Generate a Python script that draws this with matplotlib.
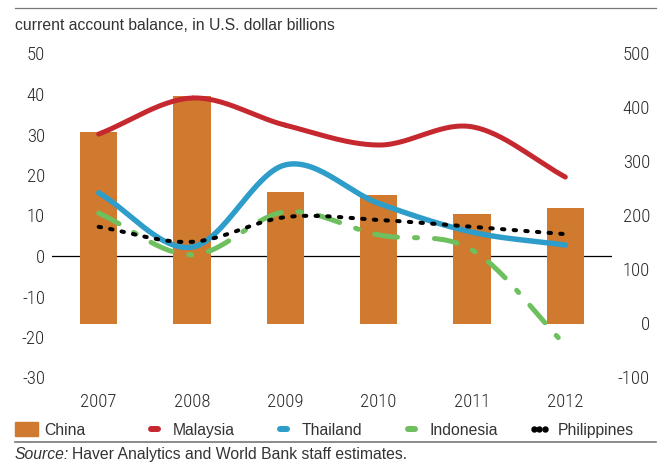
import numpy as np
import matplotlib
matplotlib.use("Agg")
import matplotlib.pyplot as plt
from matplotlib.lines import Line2D
from matplotlib.patches import Patch
from matplotlib.transforms import blended_transform_factory

plt.rcParams['font.family'] = ['Roboto Condensed', 'DejaVu Sans']
plt.rcParams['axes.unicode_minus'] = False

years = ['2007', '2008', '2009', '2010', '2011', '2012']
china = [355, 421, 244, 238, 203, 214]          # right axis
malaysia = [30.1, 39.0, 32.3, 27.4, 31.9, 19.5]
thailand = [15.6, 2.2, 22.5, 13.0, 5.9, 2.7]
indonesia = [10.6, 0.3, 10.9, 5.2, 1.5, -22.0]
philippines = [7.2, 3.5, 9.6, 8.9, 7.2, 5.4]
labels = ['China', 'Malaysia', 'Thailand', 'Indonesia', 'Philippines']


def smooth(y, n=30):
    # catmull-rom curve through the points, for the smoothed line look
    y = np.asarray(y, dtype=float)
    x = np.arange(len(y), dtype=float)
    px = np.concatenate([[2 * x[0] - x[1]], x, [2 * x[-1] - x[-2]]])
    py = np.concatenate([[2 * y[0] - y[1]], y, [2 * y[-1] - y[-2]]])
    xs, ys = [], []
    t = np.linspace(0, 1, n)
    for i in range(1, len(px) - 2):
        for p, out in ((px, xs), (py, ys)):
            p0, p1, p2, p3 = p[i - 1], p[i], p[i + 1], p[i + 2]
            out.append(0.5 * (2 * p1 + (-p0 + p2) * t
                              + (2 * p0 - 5 * p1 + 4 * p2 - p3) * t ** 2
                              + (-p0 + 3 * p1 - 3 * p2 + p3) * t ** 3))
    return np.concatenate(xs), np.concatenate(ys)


W, H = 667, 463
fig = plt.figure(figsize=(W / 100, H / 100), dpi=100)
ax = fig.add_axes([52 / W, 1 - 377.5 / H, 560 / W, 324 / H])
ax2 = ax.twinx()

x = np.arange(len(years))
orange = '#CF7A2E'
red = '#C6282F'
blue = '#2E9DCA'
green = '#6EC05E'
ink = '#2a2a2a'
tfont = dict(family=['Liberation Sans', 'DejaVu Sans'])

ax2.bar(x, china, width=0.4, color=orange, zorder=2)
zt = blended_transform_factory(ax2.transAxes, ax.transData)
ax2.plot([0, 1], [0, 0], color='black', lw=0.9, transform=zt, zorder=1)

sx, sy = smooth(malaysia)
ax.plot(sx, sy, color=red, lw=3.6, solid_capstyle='round')
sx, sy = smooth(thailand)
ax.plot(sx, sy, color=blue, lw=3.9, solid_capstyle='round')
sx, sy = smooth(indonesia)
ax.plot(sx, sy, color=green, lw=3.6, dashes=(4.6, 3.4, 0.6, 3.4), dash_capstyle='round')
sx, sy = smooth(philippines)
ax.plot(sx, sy, color='black', lw=2.9, dashes=(0.6, 2.3), dash_capstyle='round')

ax.set_zorder(ax2.get_zorder() + 1)
ax.patch.set_visible(False)

ax.set_xlim(-0.5, 5.5)
ax.set_ylim(-30, 50)
ax2.set_ylim(-100, 500)
ax.set_yticks(range(-30, 51, 10))
ax2.set_yticks(range(-100, 501, 100))
ax.set_xticks(x)
ax.set_xticklabels(years)
for a in (ax, ax2):
    for s in a.spines.values():
        s.set_visible(False)
ax.tick_params(axis='both', length=0, labelsize=13.5, colors=ink)
ax.tick_params(axis='y', pad=5)
ax.tick_params(axis='x', pad=11)
ax2.tick_params(axis='y', length=0, labelsize=13.5, colors=ink, pad=27.4)
for lab in ax2.get_yticklabels():
    lab.set_horizontalalignment('right')
for lab in ax.get_xticklabels() + ax.get_yticklabels() + ax2.get_yticklabels():
    lab.set_fontweight('light')

fig.text(15 / W, 1 - 29.5 / H, 'current account balance, in U.S. dollar billions',
         fontsize=11.3, va='baseline', ha='left', color='#333333', **tfont)
fig.add_artist(Line2D([15 / W, 656 / W], [1 - 8 / H, 1 - 8 / H],
                      color='#777777', lw=0.9))
fig.add_artist(Line2D([15 / W, 656 / W], [1 - 442 / H, 1 - 442 / H],
                      color='#777777', lw=1.2))

# legend: one entry per legend so each sits where the reference has it
handles = [
    Patch(color=orange),
    Line2D([], [], color=red, lw=4.3, solid_capstyle='round'),
    Line2D([], [], color=blue, lw=4.3, solid_capstyle='round'),
    Line2D([], [], color=green, lw=4.3, solid_capstyle='round'),
    Line2D([], [], color='black', ls='none', marker='o', markersize=3.6),
]
lx = [15, 146, 275, 403, 529]
hlen = [1.44, 1.06, 1.06, 1.06, 1.3]
hpad = [0.45, 0.63, 0.63, 0.63, 0.55]
for h, lab, x0, hl, hp in zip(handles, labels, lx, hlen, hpad):
    fig.legend([h], [lab], loc='center left', bbox_to_anchor=(x0 / W, 1 - 430 / H),
               frameon=False, handlelength=hl, handleheight=1.0,
               handletextpad=hp, borderaxespad=0, borderpad=0, numpoints=3,
               prop=dict(size=11.3, **tfont), labelcolor='#333333')

src = fig.text(15 / W, 1 - 459 / H, 'Source:', fontsize=11.3, va='baseline',
               ha='left', color='#333333', style='italic', **tfont)
fig.canvas.draw()
bb = src.get_window_extent()
fig.text(bb.x1 / W + 3 / W, 1 - 459 / H,
         'Haver Analytics and World Bank staff estimates.',
         fontsize=11.3, va='baseline', ha='left', color='#333333', **tfont)

fig.savefig('out.png', dpi=100)
